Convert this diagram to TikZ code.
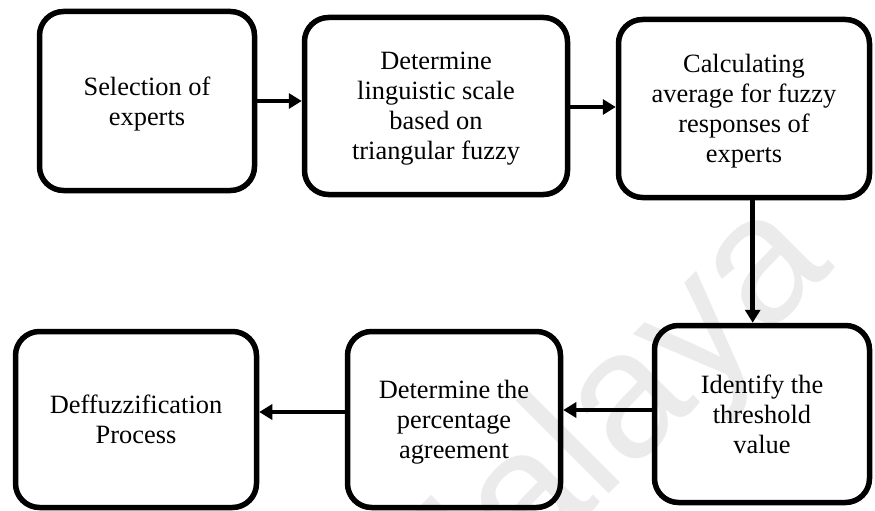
\documentclass[tikz,border=0pt]{standalone}
\usepackage{fontspec}
\setmainfont{Liberation Serif}
\newfontfamily\wmfont{Liberation Sans}
\usetikzlibrary{arrows.meta}
% last line of a box: drop its descender so the block sits centred
\newcommand{\lastline}[1]{\raisebox{0pt}[\height][0pt]{#1}}
\begin{document}
\begin{tikzpicture}[x=1pt,y=-1pt,
  stepbox/.style={draw, line width=5.5pt, rounded corners=24pt, align=center,
    inner sep=0pt, font=\fontsize{26.4}{30}\selectfont},
  flow/.style={line width=4.5pt, -{Triangle[length=13pt,width=15pt]}},
  watermark/.style={rotate=45, anchor=base west, inner sep=0pt, text=black!8,
    font=\wmfont\fontsize{181}{181}\selectfont}]
\useasboundingbox (0,0) rectangle (875,511);

% faint background lettering
\node[watermark] (wm) at (423,680) {Malaya};

% process steps
\node[stepbox, minimum width=215pt, minimum height=179pt] (sel) at (147,101)
  {Selection of\\\lastline{experts}};
\node[stepbox, minimum width=263pt, minimum height=177pt] (ling) at (436,106)
  {Determine\\linguistic scale\\based on\\\lastline{triangular fuzzy}};
\node[stepbox, minimum width=251pt, minimum height=178pt] (calc) at (744,108.5)
  {Calculating\\average for fuzzy\\responses of\\\lastline{experts}};
\node[stepbox, minimum width=215pt, minimum height=177pt] (thr) at (762,414)
  {Identify the\\threshold\\\lastline{value}};
\node[stepbox, minimum width=213pt, minimum height=176pt] (pct) at (454,419.5)
  {Determine the\\percentage\\\lastline{agreement}};
\node[stepbox, minimum width=241pt, minimum height=176pt] (def) at (136,419.5)
  {Deffuzzification\\\lastline{Process}};

% connectors
\draw[flow] (sel.east) -- (sel.east -| ling.west);
\draw[flow] ([yshift=-1pt]ling.east) -- ([yshift=-1pt]ling.east -| calc.west);
\draw[flow] ([xshift=8.7pt]calc.south) -- ([xshift=8.7pt]calc.south |- thr.north);
\draw[flow] ([yshift=4pt]thr.west) -- ([yshift=4pt]thr.west -| pct.east);
\draw[flow] ([yshift=7.5pt]pct.west) -- ([yshift=7.5pt]pct.west -| def.east);
\end{tikzpicture}
\end{document}
